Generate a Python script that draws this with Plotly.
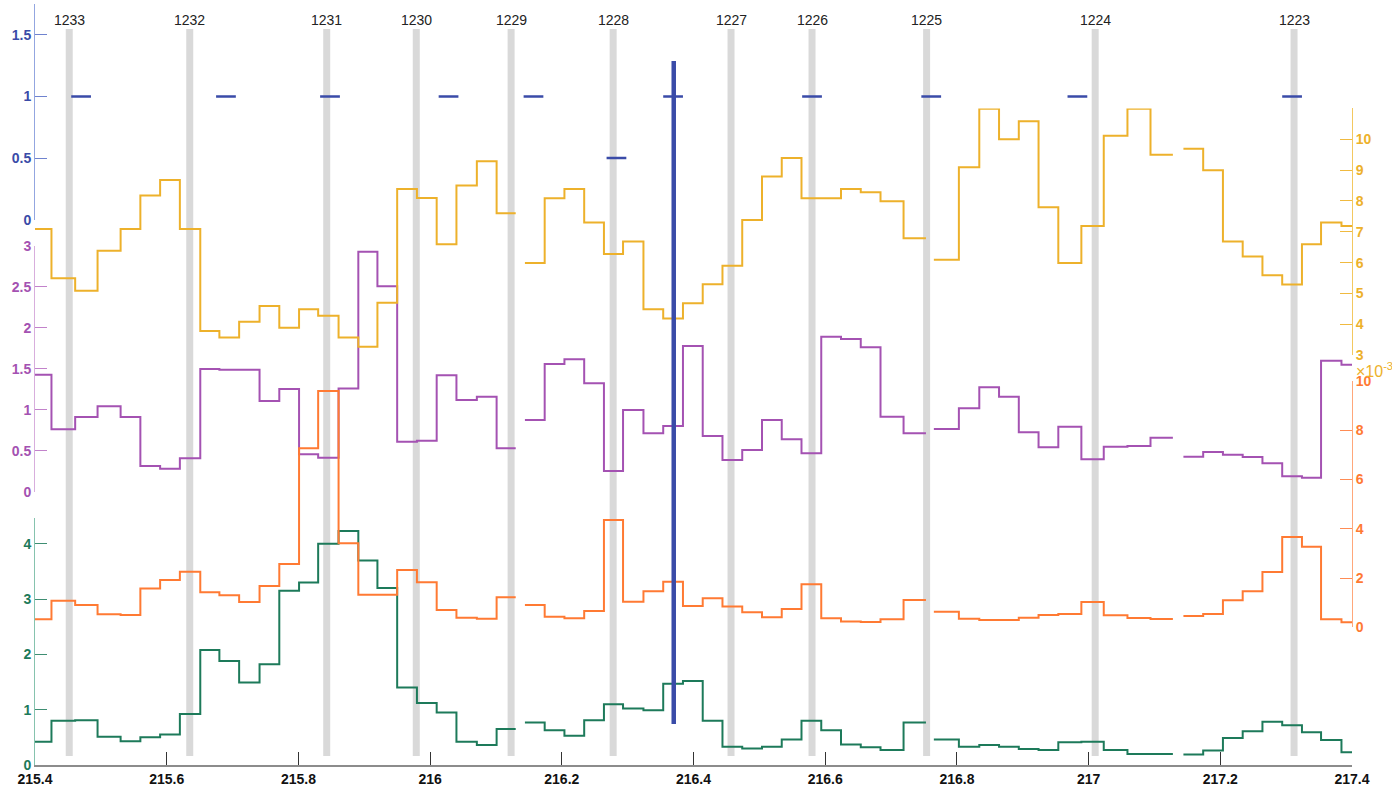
import plotly.graph_objects as go

W, H = 1392, 789

# ---------------- data ----------------
# bin edges of the four contiguous segments (gaps between them)
seg_edges = [
    [215.400, 215.425, 215.461, 215.495, 215.530, 215.560, 215.590, 215.620, 215.651,
     215.680, 215.710, 215.741, 215.771, 215.801, 215.830, 215.861, 215.891, 215.920,
     215.950, 215.980, 216.010, 216.040, 216.071, 216.101, 216.130],
    [216.144, 216.174, 216.204, 216.234, 216.264, 216.293, 216.324, 216.354, 216.384,
     216.414, 216.444, 216.474, 216.504, 216.534, 216.564, 216.594, 216.624, 216.654,
     216.684, 216.719, 216.753],
    [216.765, 216.803, 216.834, 216.864, 216.894, 216.924, 216.954, 216.989, 217.023,
     217.059, 217.094, 217.128],
    [217.144, 217.174, 217.204, 217.234, 217.264, 217.294, 217.324, 217.353, 217.384,
     217.400],
]

# yellow series (x1e-3), right axis, upper
yellow = [7.09, 5.50, 5.09, 6.39, 7.09, 8.18, 8.68, 7.09, 3.79, 3.58, 4.09, 4.60, 3.89,
          4.49, 4.28, 3.58, 3.28, 4.70, 8.39, 8.10, 6.60, 8.50, 9.29, 7.60,
          5.99, 8.09, 8.39, 7.30, 6.28, 6.69, 4.49, 4.19, 4.69, 5.30, 5.90, 7.38, 8.79,
          9.39, 8.09, 8.09, 8.39, 8.28, 7.99, 6.79,
          6.10, 9.09, 10.99, 10.00, 10.58, 7.80, 5.99, 7.19, 10.11, 10.99, 9.50,
          9.69, 9.00, 6.69, 6.20, 5.59, 5.29, 6.60, 7.30, 7.19]

# purple series, left axis, middle
purple = [1.427, 0.761, 0.911, 1.041, 0.911, 0.313, 0.280, 0.407, 1.496, 1.488, 1.488,
          1.106, 1.252, 0.456, 0.415, 1.260, 2.927, 2.505, 0.610, 0.622, 1.419, 1.118,
          1.159, 0.529,
          0.874, 1.556, 1.615, 1.322, 0.252, 0.996, 0.712, 0.801, 1.777, 0.679, 0.387,
          0.509, 0.874, 0.639, 0.468, 1.890, 1.862, 1.761, 0.915, 0.712,
          0.765, 1.017, 1.273, 1.159, 0.724, 0.541, 0.793, 0.395, 0.549, 0.557, 0.659,
          0.427, 0.484, 0.451, 0.423, 0.346, 0.188, 0.171, 1.598, 1.549]

# orange series (x1e-3), right axis, lower
orange = [0.325, 1.08, 0.905, 0.528, 0.50, 1.58, 1.92, 2.26, 1.42, 1.30, 1.03, 1.68,
          2.57, 7.27, 9.59, 3.41, 1.32, 1.32, 2.33, 1.83, 0.70, 0.39, 0.35, 1.22,
          0.905, 0.43, 0.365, 0.66, 4.36, 1.04, 1.46, 1.85, 0.865, 1.18, 0.84, 0.61,
          0.41, 0.74, 1.75, 0.365, 0.24, 0.215, 0.325, 1.11,
          0.635, 0.35, 0.30, 0.30, 0.39, 0.50, 0.54, 1.03, 0.49, 0.38, 0.34,
          0.46, 0.54, 1.10, 1.46, 2.25, 3.67, 3.27, 0.325, 0.20]

# green series, left axis, bottom
green = [0.42, 0.80, 0.81, 0.51, 0.43, 0.50, 0.55, 0.92, 2.08, 1.88, 1.49, 1.82, 3.15,
         3.30, 4.00, 4.23, 3.70, 3.20, 1.40, 1.12, 0.95, 0.42, 0.36, 0.65,
         0.77, 0.63, 0.53, 0.81, 1.10, 1.02, 0.99, 1.47, 1.52, 0.80, 0.33, 0.30, 0.33,
         0.46, 0.80, 0.63, 0.37, 0.32, 0.27, 0.77,
         0.46, 0.33, 0.36, 0.33, 0.29, 0.27, 0.41, 0.42, 0.27, 0.20, 0.20,
         0.19, 0.26, 0.49, 0.61, 0.78, 0.72, 0.59, 0.45, 0.23]

# blue short segments (top axis)
blue_start = [215.455, 215.675, 215.833, 216.013, 216.142, 216.268, 216.354, 216.565,
              216.746, 216.968, 217.294]
blue_val = [1, 1, 1, 1, 1, 0.5, 1, 1, 1, 1, 1]
blue_width = 0.03

# event markers (gray bars) and their labels
event_x = [215.452, 215.635, 215.843, 215.979, 216.123, 216.278, 216.457, 216.580,
           216.754, 217.010, 217.312]
event_labels = ["1233", "1232", "1231", "1230", "1229", "1228", "1227", "1226",
                "1225", "1224", "1223"]

cursor_x = 216.370

x_ticks = [215.4, 215.6, 215.8, 216.0, 216.2, 216.4, 216.6, 216.8, 217.0, 217.2, 217.4]
x_ticklabels = ["215.4", "215.6", "215.8", "216", "216.2", "216.4", "216.6", "216.8",
                "217", "217.2", "217.4"]

# ---------------- helpers ----------------
def step_xy(values):
    xs, ys = [], []
    i = 0
    for edges in seg_edges:
        n = len(edges) - 1
        v = list(values[i:i + n])
        i += n
        xs += list(edges) + [None]
        ys += v + [v[-1], None]
    return xs, ys


def py(px):
    return 1 - px / H


def px_x(px):
    return px / W


C_YEL = "#EDB12B"
C_PUR = "#A452B2"
C_ORA = "#FF7A33"
C_GRN = "#1D7A5A"
C_BLU = "#3A4BA8"

fig = go.Figure()

for vals, col, ax in [(yellow, C_YEL, "y4"), (purple, C_PUR, "y2"),
                      (orange, C_ORA, "y5"), (green, C_GRN, "y3")]:
    xs, ys = step_xy(vals)
    fig.add_trace(go.Scatter(x=xs, y=ys, mode="lines", line=dict(color=col, width=2, shape="hv"),
                             yaxis=ax, xaxis="x", showlegend=False, hoverinfo="skip",
                             connectgaps=False))

bx, byv = [], []
for s, v in zip(blue_start, blue_val):
    bx += [s, s + blue_width, None]
    byv += [v, v, None]
fig.add_trace(go.Scatter(x=bx, y=byv, mode="lines", line=dict(color=C_BLU, width=2.5),
                         yaxis="y", xaxis="x", showlegend=False, hoverinfo="skip"))

shapes = []
for ex in event_x:
    shapes.append(dict(type="line", xref="x", yref="paper", x0=ex, x1=ex,
                       y0=py(756), y1=py(29), line=dict(color="#D9D9D9", width=7),
                       layer="below"))
shapes.append(dict(type="line", xref="x", yref="paper", x0=cursor_x, x1=cursor_x,
                   y0=py(724), y1=py(61), line=dict(color=C_BLU, width=4.5), layer="above"))

annotations = []
for ex, lab in zip(event_x, event_labels):
    annotations.append(dict(x=ex, y=py(20), xref="x", yref="paper", text=lab,
                            showarrow=False, font=dict(family="Liberation Sans", size=14,
                                                       color="#222222"),
                            xanchor="center", yanchor="middle"))
annotations.append(dict(x=px_x(1354), y=py(370), xref="paper", yref="paper",
                        text="×10<sup>-3</sup>", showarrow=False, xanchor="left",
                        yanchor="middle", font=dict(family="Liberation Sans", size=16,
                                                    color=C_YEL)))

def tickfont(c):
    return dict(family="Liberation Sans", size=14, color=c, weight="bold")

common_y = dict(showgrid=False, zeroline=False, showline=True, ticks="inside",
                ticklen=12, tickwidth=1, fixedrange=True, automargin=False)

fig.update_layout(
    width=W, height=H,
    margin=dict(l=0, r=0, t=0, b=0, autoexpand=False),
    paper_bgcolor="white", plot_bgcolor="rgba(0,0,0,0)",
    shapes=shapes, annotations=annotations,
    xaxis=dict(domain=[px_x(35), px_x(1352)], range=[215.4, 217.4], anchor="y3",
               tickvals=x_ticks, ticktext=x_ticklabels, ticks="inside", ticklen=13,
               tickcolor="#333333", showline=True, linecolor="#8C8C8C", linewidth=2,
               showgrid=False, zeroline=False, tickfont=tickfont("#111111"),
               automargin=False, fixedrange=True),
    yaxis=dict(domain=[py(219.7), py(4)], range=[0, 1.75], anchor="x", side="left",
               tickvals=[0, 0.5, 1, 1.5], ticktext=["0", "0.5", "1", "1.5"],
               linecolor="#93A6E0", tickcolor="#6F83CF", tickfont=tickfont(C_BLU), **common_y),
    yaxis2=dict(domain=[py(491.7), py(245.7)], range=[0, 3], anchor="x", side="left",
                tickvals=[0, 0.5, 1, 1.5, 2, 2.5, 3],
                ticktext=["0", "0.5", "1", "1.5", "2", "2.5", "3"],
                linecolor="#D8AEDD", tickcolor="#C282CB", tickfont=tickfont(C_PUR), **common_y),
    yaxis3=dict(domain=[py(765), py(517.8)], range=[0, 4.47], anchor="x", side="left",
                tickvals=[0, 1, 2, 3, 4], ticktext=["0", "1", "2", "3", "4"],
                linecolor="#86C3AE", tickcolor="#3E8E72", tickfont=tickfont(C_GRN), **common_y),
    yaxis4=dict(domain=[py(355.3), py(108.4)], range=[3, 11], anchor="x", side="right",
                tickvals=[3, 4, 5, 6, 7, 8, 9, 10],
                ticktext=["3", "4", "5", "6", "7", "8", "9", "10"],
                linecolor="#F3C860", tickcolor="#F0BA40", tickfont=tickfont(C_YEL), **common_y),
    yaxis5=dict(domain=[py(627.3), py(381)], range=[0, 10], anchor="x", side="right",
                tickvals=[0, 2, 4, 6, 8, 10], ticktext=["0", "2", "4", "6", "8", "10"],
                linecolor="#FFA77A", tickcolor="#FF8C55", tickfont=tickfont(C_ORA), **common_y),
)

fig.write_html("out.html", config={"displayModeBar": False},
               post_script="document.body.style.margin='0';document.body.style.overflow='hidden';")
